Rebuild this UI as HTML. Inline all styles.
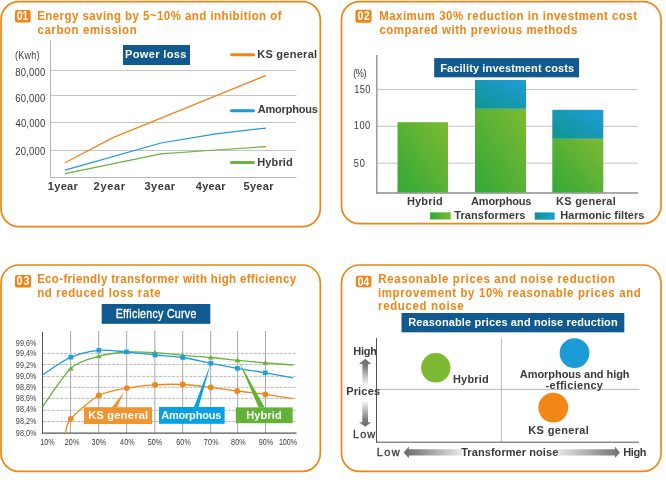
<!DOCTYPE html>
<html><head><meta charset="utf-8"><style>
html,body{margin:0;padding:0;background:#fff;}
body{width:666px;height:480px;overflow:hidden;position:relative;}
svg{position:absolute;left:0;top:0;will-change:transform;font-family:"Liberation Sans",sans-serif;}
</style></head><body>
<svg width="666" height="480" viewBox="0 0 666 480">
<defs>
<linearGradient id="gg" x1="0" y1="1" x2="1" y2="0"><stop offset="0" stop-color="#32a838"/><stop offset="1" stop-color="#7eba32"/></linearGradient>
<linearGradient id="bg" x1="0" y1="1" x2="1" y2="0"><stop offset="0" stop-color="#0f958e"/><stop offset="1" stop-color="#1f9dda"/></linearGradient>
<linearGradient id="gs" x1="0" y1="0" x2="1" y2="0"><stop offset="0" stop-color="#32a838"/><stop offset="1" stop-color="#7eba32"/></linearGradient>
<linearGradient id="bs" x1="0" y1="0" x2="1" y2="0"><stop offset="0" stop-color="#0f958e"/><stop offset="1" stop-color="#1f9dda"/></linearGradient>
<linearGradient id="ua" x1="0" y1="0" x2="0" y2="1"><stop offset="0" stop-color="#6c6c6c"/><stop offset="0.25" stop-color="#7a7a7a"/><stop offset="1" stop-color="#fff"/></linearGradient>
<linearGradient id="da" x1="0" y1="1" x2="0" y2="0"><stop offset="0" stop-color="#6c6c6c"/><stop offset="0.25" stop-color="#7a7a7a"/><stop offset="1" stop-color="#fff"/></linearGradient>
<linearGradient id="la" x1="0" y1="0" x2="1" y2="0"><stop offset="0" stop-color="#6a6a6a"/><stop offset="0.1" stop-color="#747474"/><stop offset="1" stop-color="#e8e8e8"/></linearGradient>
<linearGradient id="ra" x1="1" y1="0" x2="0" y2="0"><stop offset="0" stop-color="#6e6e6e"/><stop offset="0.1" stop-color="#7c7c7c"/><stop offset="1" stop-color="#e8e8e8"/></linearGradient>
</defs>
<rect x="1" y="1.7" width="319.3" height="224.9" rx="18" ry="18" fill="none" stroke="#f08516" stroke-width="1.7"/>
<rect x="341.5" y="1.7" width="319.5" height="222.0" rx="18" ry="18" fill="none" stroke="#f08516" stroke-width="1.7"/>
<rect x="1" y="265" width="319.3" height="206.3" rx="18" ry="18" fill="none" stroke="#f08516" stroke-width="1.7"/>
<rect x="341.5" y="265" width="319.5" height="206.3" rx="18" ry="18" fill="none" stroke="#f08516" stroke-width="1.7"/>
<rect x="15" y="9.9" width="15.600000000000001" height="12.6" fill="#f08516" rx="2.2"/>
<text transform="translate(16.77,20.3) scale(0.9,1)" font-size="12" font-weight="700" fill="#fff" textLength="12.81" lengthAdjust="spacing">01</text>
<text transform="translate(37.13,20) scale(0.88,1)" font-size="13" font-weight="700" fill="#f08516" textLength="277.66" lengthAdjust="spacing">Energy saving by 5~10% and inhibition of</text>
<text transform="translate(37.45,34) scale(0.88,1)" font-size="13" font-weight="700" fill="#f08516" textLength="112.79" lengthAdjust="spacing">carbon emission</text>
<line x1="50" y1="70.5" x2="296.5" y2="70.5" stroke="#c4c4c4" stroke-width="1"/>
<line x1="50" y1="95.5" x2="296.5" y2="95.5" stroke="#c4c4c4" stroke-width="1"/>
<line x1="50" y1="122.5" x2="296.5" y2="122.5" stroke="#c4c4c4" stroke-width="1"/>
<line x1="50" y1="150.5" x2="296.5" y2="150.5" stroke="#c4c4c4" stroke-width="1"/>
<line x1="50.5" y1="40" x2="50.5" y2="177.5" stroke="#b8b8b8" stroke-width="1"/>
<line x1="50" y1="177.5" x2="296.5" y2="177.5" stroke="#b8b8b8" stroke-width="1"/>
<text transform="translate(14.94,59) scale(0.9,1)" font-size="10" font-weight="400" fill="#3a3a3a" textLength="27.24" lengthAdjust="spacing">(Kwh)</text>
<text transform="translate(15.29,76) scale(0.86,1)" font-size="11" font-weight="400" fill="#3a3a3a" textLength="34.86" lengthAdjust="spacing">80,000</text>
<text transform="translate(15.22,102) scale(0.86,1)" font-size="11" font-weight="400" fill="#3a3a3a" textLength="34.94" lengthAdjust="spacing">60,000</text>
<text transform="translate(15.48,127) scale(0.86,1)" font-size="11" font-weight="400" fill="#3a3a3a" textLength="34.64" lengthAdjust="spacing">40,000</text>
<text transform="translate(15.22,155) scale(0.86,1)" font-size="11" font-weight="400" fill="#3a3a3a" textLength="34.94" lengthAdjust="spacing">20,000</text>
<rect x="123" y="45" width="67" height="20" fill="#105a8f"/>
<text x="125.06" y="58" font-size="11" font-weight="700" fill="#fff" textLength="61.39" lengthAdjust="spacing">Power loss</text>
<line x1="231.5" y1="54.7" x2="253.5" y2="54.7" stroke="#f0861a" stroke-width="3" stroke-linecap="round"/>
<line x1="231.5" y1="110.8" x2="253.5" y2="110.8" stroke="#1e9ad6" stroke-width="3" stroke-linecap="round"/>
<line x1="231.5" y1="162.5" x2="253.5" y2="162.5" stroke="#6cb33f" stroke-width="3" stroke-linecap="round"/>
<text x="257.26" y="58" font-size="11" font-weight="700" fill="#3a3a3a" textLength="59.81" lengthAdjust="spacing">KS general</text>
<text x="257.63" y="113" font-size="11" font-weight="700" fill="#3a3a3a" textLength="60.33" lengthAdjust="spacing">Amorphous</text>
<text x="257.26" y="166" font-size="11" font-weight="700" fill="#3a3a3a" textLength="35.46" lengthAdjust="spacing">Hybrid</text>
<polyline points="65,162.7 113,137.6 266,75.4" fill="none" stroke="#f0861a" stroke-width="1.25" stroke-linejoin="round"/>
<polyline points="65,170.1 161,143 216,133.8 266,128.1" fill="none" stroke="#1e9ad6" stroke-width="1.25" stroke-linejoin="round"/>
<polyline points="65,173.7 161,153.9 216,150 266,146.7" fill="none" stroke="#6cb33f" stroke-width="1.25" stroke-linejoin="round"/>
<text x="47.71" y="190" font-size="11" font-weight="700" fill="#3a3a3a" textLength="30.16" lengthAdjust="spacing">1year</text>
<text x="93.62" y="190" font-size="11" font-weight="700" fill="#3a3a3a" textLength="31.45" lengthAdjust="spacing">2year</text>
<text x="144.55" y="190" font-size="11" font-weight="700" fill="#3a3a3a" textLength="30.52" lengthAdjust="spacing">3year</text>
<text x="195.83" y="190" font-size="11" font-weight="700" fill="#3a3a3a" textLength="29.63" lengthAdjust="spacing">4year</text>
<text x="243.46" y="190" font-size="11" font-weight="700" fill="#3a3a3a" textLength="30.10" lengthAdjust="spacing">5year</text>
<rect x="355.4" y="9.8" width="16.200000000000045" height="12.899999999999999" fill="#f08516" rx="2.2"/>
<text transform="translate(357.47,20.4) scale(0.9,1)" font-size="12" font-weight="700" fill="#fff" textLength="13.62" lengthAdjust="spacing">02</text>
<text transform="translate(379.13,20) scale(0.88,1)" font-size="13" font-weight="700" fill="#f08516" textLength="293.07" lengthAdjust="spacing">Maximum 30% reduction in investment cost</text>
<text transform="translate(379.45,34) scale(0.88,1)" font-size="13" font-weight="700" fill="#f08516" textLength="224.79" lengthAdjust="spacing">compared with previous methods</text>
<line x1="377" y1="89.5" x2="638" y2="89.5" stroke="#c4c4c4" stroke-width="1"/>
<line x1="377" y1="126.3" x2="638" y2="126.3" stroke="#c4c4c4" stroke-width="1"/>
<line x1="377" y1="163.2" x2="638" y2="163.2" stroke="#c4c4c4" stroke-width="1"/>
<line x1="376.8" y1="55" x2="376.8" y2="193.8" stroke="#9a9a9a" stroke-width="1.5"/>
<line x1="376" y1="193" x2="638" y2="193" stroke="#8e8e8e" stroke-width="1.6"/>
<text transform="translate(353.18,77) scale(0.92,1)" font-size="10" font-weight="400" fill="#3a3a3a" textLength="14.66" lengthAdjust="spacing">(%)</text>
<text transform="translate(354.20,93) scale(0.84,1)" font-size="11" font-weight="400" fill="#3a3a3a" textLength="19.12" lengthAdjust="spacing">150</text>
<text transform="translate(353.80,129) scale(0.84,1)" font-size="11" font-weight="400" fill="#3a3a3a" textLength="19.42" lengthAdjust="spacing">100</text>
<text transform="translate(353.63,167) scale(0.84,1)" font-size="11" font-weight="400" fill="#3a3a3a" textLength="13.37" lengthAdjust="spacing">50</text>
<rect x="434.2" y="58.1" width="144.9" height="19.2" fill="#105a8f"/>
<text x="440.26" y="72" font-size="11" font-weight="700" fill="#fff" textLength="133.89" lengthAdjust="spacing">Facility investment costs</text>
<rect x="397.5" y="122.2" width="50.5" height="70.3" fill="url(#gg)"/>
<rect x="475" y="108.8" width="51" height="83.7" fill="url(#gg)"/>
<rect x="475" y="80" width="51" height="28.8" fill="url(#bg)"/>
<rect x="552.3" y="138.8" width="51" height="53.7" fill="url(#gg)"/>
<rect x="552.3" y="109.8" width="51" height="29" fill="url(#bg)"/>
<text x="406.96" y="205" font-size="11" font-weight="700" fill="#3a3a3a" textLength="35.66" lengthAdjust="spacing">Hybrid</text>
<text x="471.03" y="205" font-size="11" font-weight="700" fill="#3a3a3a" textLength="60.43" lengthAdjust="spacing">Amorphous</text>
<text x="556.06" y="205" font-size="11" font-weight="700" fill="#3a3a3a" textLength="59.71" lengthAdjust="spacing">KS general</text>
<rect x="430.1" y="212.3" width="20.7" height="7.2" fill="url(#gs)"/>
<text x="454.18" y="219" font-size="11" font-weight="700" fill="#3a3a3a" textLength="71.27" lengthAdjust="spacing">Transformers</text>
<rect x="534.7" y="212.4" width="20" height="7.3" fill="url(#bs)"/>
<text x="560.26" y="219" font-size="11" font-weight="700" fill="#3a3a3a" textLength="84.19" lengthAdjust="spacing">Harmonic filters</text>
<rect x="15" y="275" width="16.1" height="12.600000000000023" fill="#f08516" rx="2.2"/>
<text transform="translate(16.57,285.4) scale(0.9,1)" font-size="12" font-weight="700" fill="#fff" textLength="14.35" lengthAdjust="spacing">03</text>
<text transform="translate(37.13,283) scale(0.88,1)" font-size="13" font-weight="700" fill="#f08516" textLength="294.23" lengthAdjust="spacing">Eco-friendly transformer with high efficiency</text>
<text transform="translate(37.15,297) scale(0.88,1)" font-size="13" font-weight="700" fill="#f08516" textLength="140.39" lengthAdjust="spacing">nd reduced loss rate</text>
<rect x="101.7" y="304" width="108.6" height="19.8" fill="#105a8f"/>
<text transform="translate(115.63,318) scale(0.82,1)" font-size="13" font-weight="400" fill="#fff" textLength="98.47" lengthAdjust="spacing" stroke="#fff" stroke-width="0.35">Efficiency Curve</text>
<line x1="70.6" y1="331" x2="70.6" y2="433" stroke="#a8a8a8" stroke-width="1"/>
<line x1="98.7" y1="331" x2="98.7" y2="433" stroke="#a8a8a8" stroke-width="1"/>
<line x1="126.7" y1="331" x2="126.7" y2="433" stroke="#a8a8a8" stroke-width="1"/>
<line x1="154.8" y1="331" x2="154.8" y2="433" stroke="#a8a8a8" stroke-width="1"/>
<line x1="182.7" y1="331" x2="182.7" y2="433" stroke="#a8a8a8" stroke-width="1"/>
<line x1="210.7" y1="331" x2="210.7" y2="433" stroke="#a8a8a8" stroke-width="1"/>
<line x1="237.6" y1="331" x2="237.6" y2="433" stroke="#a8a8a8" stroke-width="1"/>
<line x1="265.5" y1="331" x2="265.5" y2="433" stroke="#a8a8a8" stroke-width="1"/>
<line x1="43" y1="353.4" x2="296" y2="353.4" stroke="#bcbcbc" stroke-width="1" stroke-dasharray="3.2 1.1"/>
<line x1="43" y1="364.5" x2="296" y2="364.5" stroke="#bcbcbc" stroke-width="1" stroke-dasharray="3.2 1.1"/>
<line x1="43" y1="376.4" x2="296" y2="376.4" stroke="#bcbcbc" stroke-width="1" stroke-dasharray="3.2 1.1"/>
<line x1="43" y1="387.3" x2="296" y2="387.3" stroke="#bcbcbc" stroke-width="1" stroke-dasharray="3.2 1.1"/>
<line x1="43" y1="398.4" x2="296" y2="398.4" stroke="#bcbcbc" stroke-width="1" stroke-dasharray="3.2 1.1"/>
<line x1="43" y1="410.3" x2="296" y2="410.3" stroke="#bcbcbc" stroke-width="1" stroke-dasharray="3.2 1.1"/>
<line x1="43" y1="421.5" x2="296" y2="421.5" stroke="#bcbcbc" stroke-width="1" stroke-dasharray="3.2 1.1"/>
<line x1="42.5" y1="332" x2="42.5" y2="433.5" stroke="#555" stroke-width="1"/>
<line x1="42" y1="433.2" x2="296.5" y2="433.2" stroke="#555" stroke-width="1.3"/>
<text transform="translate(15.86,346) scale(0.8,1)" font-size="9" font-weight="400" fill="#3a3a3a" textLength="25.62" lengthAdjust="spacing">99,6%</text>
<text transform="translate(15.86,356) scale(0.8,1)" font-size="9" font-weight="400" fill="#3a3a3a" textLength="25.62" lengthAdjust="spacing">99,4%</text>
<text transform="translate(15.86,368) scale(0.8,1)" font-size="9" font-weight="400" fill="#3a3a3a" textLength="25.62" lengthAdjust="spacing">99,2%</text>
<text transform="translate(15.86,379) scale(0.8,1)" font-size="9" font-weight="400" fill="#3a3a3a" textLength="25.62" lengthAdjust="spacing">99,0%</text>
<text transform="translate(15.86,390) scale(0.8,1)" font-size="9" font-weight="400" fill="#3a3a3a" textLength="25.62" lengthAdjust="spacing">98,8%</text>
<text transform="translate(15.86,401) scale(0.8,1)" font-size="9" font-weight="400" fill="#3a3a3a" textLength="25.62" lengthAdjust="spacing">98,6%</text>
<text transform="translate(15.86,412) scale(0.8,1)" font-size="9" font-weight="400" fill="#3a3a3a" textLength="25.62" lengthAdjust="spacing">98,4%</text>
<text transform="translate(15.86,424) scale(0.8,1)" font-size="9" font-weight="400" fill="#3a3a3a" textLength="25.62" lengthAdjust="spacing">98,2%</text>
<text transform="translate(15.86,436) scale(0.8,1)" font-size="9" font-weight="400" fill="#3a3a3a" textLength="25.62" lengthAdjust="spacing">98,0%</text>
<text transform="translate(40.15,445) scale(0.8,1)" font-size="9" font-weight="400" fill="#3a3a3a" textLength="18.01" lengthAdjust="spacing">10%</text>
<text transform="translate(64.64,445) scale(0.8,1)" font-size="9" font-weight="400" fill="#3a3a3a" textLength="18.52" lengthAdjust="spacing">20%</text>
<text transform="translate(91.53,445) scale(0.8,1)" font-size="9" font-weight="400" fill="#3a3a3a" textLength="18.41" lengthAdjust="spacing">30%</text>
<text transform="translate(120.03,445) scale(0.8,1)" font-size="9" font-weight="400" fill="#3a3a3a" textLength="18.28" lengthAdjust="spacing">40%</text>
<text transform="translate(147.71,445) scale(0.8,1)" font-size="9" font-weight="400" fill="#3a3a3a" textLength="17.93" lengthAdjust="spacing">50%</text>
<text transform="translate(176.13,445) scale(0.8,1)" font-size="9" font-weight="400" fill="#3a3a3a" textLength="18.53" lengthAdjust="spacing">60%</text>
<text transform="translate(203.63,445) scale(0.8,1)" font-size="9" font-weight="400" fill="#3a3a3a" textLength="18.66" lengthAdjust="spacing">70%</text>
<text transform="translate(230.99,445) scale(0.8,1)" font-size="9" font-weight="400" fill="#3a3a3a" textLength="18.46" lengthAdjust="spacing">80%</text>
<text transform="translate(258.86,445) scale(0.8,1)" font-size="9" font-weight="400" fill="#3a3a3a" textLength="17.99" lengthAdjust="spacing">90%</text>
<text transform="translate(278.95,445) scale(0.8,1)" font-size="9" font-weight="400" fill="#3a3a3a" textLength="22.63" lengthAdjust="spacing">100%</text>
<path d="M65.4,433 C66.17,430.99 66.05,424.11 70.8,418.8 C75.55,413.49 90.97,399.85 98.9,395.5 C106.83,391.15 118.85,389.62 126.8,388.1 C134.75,386.58 147.08,385.31 155,384.8 C162.92,384.29 174.79,384.13 182.7,384.5 C190.60,384.87 203.08,386.48 210.8,387.4 C218.52,388.32 229.48,390.02 237.2,391 C244.92,391.98 257.39,393.21 265.3,394.3 C273.21,395.39 289.08,398.08 293,398.7" fill="none" stroke="#f0861a" stroke-width="1.3"/>
<path d="M42.5,407 C46.74,401.21 62.35,376.00 70.8,368.4 C79.25,360.79 90.44,358.76 98.8,356.3 C107.16,353.84 118.07,352.56 126.5,352 C134.93,351.44 146.57,352.11 155,352.6 C163.43,353.10 174.33,354.56 182.7,355.3 C191.07,356.04 202.56,356.75 210.8,357.5 C219.04,358.25 229.42,359.50 237.6,360.3 C245.78,361.10 256.99,362.10 265.3,362.8 C273.61,363.50 288.85,364.67 293,365" fill="none" stroke="#68b33a" stroke-width="1.3"/>
<path d="M42.5,375 C46.74,372.33 62.35,360.90 70.8,357.2 C79.25,353.50 90.44,351.10 98.8,350.3 C107.16,349.50 118.07,351.19 126.5,351.9 C134.93,352.60 146.57,354.16 155,355 C163.43,355.84 174.33,356.25 182.7,357.5 C191.07,358.75 202.59,361.68 210.8,363.3 C219.01,364.92 229.22,366.88 237.4,368.3 C245.58,369.73 256.96,371.38 265.3,372.8 C273.64,374.23 288.85,377.05 293,377.8" fill="none" stroke="#1e9ee0" stroke-width="1.3"/>
<circle cx="70.8" cy="418.8" r="2.9" fill="#f0861a"/>
<circle cx="98.9" cy="395.5" r="2.9" fill="#f0861a"/>
<circle cx="126.8" cy="388.1" r="2.9" fill="#f0861a"/>
<circle cx="155" cy="384.8" r="2.9" fill="#f0861a"/>
<circle cx="182.7" cy="384.5" r="2.9" fill="#f0861a"/>
<circle cx="210.8" cy="387.4" r="2.9" fill="#f0861a"/>
<circle cx="237.2" cy="391" r="2.9" fill="#f0861a"/>
<circle cx="265.3" cy="394.3" r="2.9" fill="#f0861a"/>
<polygon points="67.8,370.4 73.8,370.4 70.8,365.9" fill="#68b33a"/>
<polygon points="95.8,358.3 101.8,358.3 98.8,353.8" fill="#68b33a"/>
<polygon points="123.5,354 129.5,354 126.5,349.5" fill="#68b33a"/>
<polygon points="152,354.6 158,354.6 155,350.1" fill="#68b33a"/>
<polygon points="179.7,357.3 185.7,357.3 182.7,352.8" fill="#68b33a"/>
<polygon points="207.8,359.5 213.8,359.5 210.8,355.0" fill="#68b33a"/>
<polygon points="234.6,362.3 240.6,362.3 237.6,357.8" fill="#68b33a"/>
<polygon points="262.3,364.8 268.3,364.8 265.3,360.3" fill="#68b33a"/>
<rect x="68.5" y="354.9" width="4.6" height="4.6" fill="#1e9ee0"/>
<rect x="96.5" y="348.0" width="4.6" height="4.6" fill="#1e9ee0"/>
<rect x="124.2" y="349.59999999999997" width="4.6" height="4.6" fill="#1e9ee0"/>
<rect x="152.7" y="352.7" width="4.6" height="4.6" fill="#1e9ee0"/>
<rect x="180.39999999999998" y="355.2" width="4.6" height="4.6" fill="#1e9ee0"/>
<rect x="208.5" y="361.0" width="4.6" height="4.6" fill="#1e9ee0"/>
<rect x="235.1" y="366.0" width="4.6" height="4.6" fill="#1e9ee0"/>
<rect x="263.0" y="370.5" width="4.6" height="4.6" fill="#1e9ee0"/>
<rect x="84" y="407.2" width="68" height="16.8" fill="#f29330"/>
<polygon points="111.8,407.5 117,407.5 124,392" fill="#f29330"/>
<rect x="159" y="407" width="65.6" height="16.8" fill="#05a0e6"/>
<polygon points="193.8,407.5 198.5,407.5 210.8,363.3" fill="#05a0e6"/>
<rect x="235.8" y="407.4" width="56.8" height="15.8" fill="#62b235"/>
<polygon points="258.6,407.5 264.7,407.5 238.4,360.4" fill="#62b235"/>
<text x="88.16" y="419" font-size="11" font-weight="700" fill="#fff" textLength="60.01" lengthAdjust="spacing">KS general</text>
<text x="161.13" y="419" font-size="11" font-weight="700" fill="#fff" textLength="60.23" lengthAdjust="spacing">Amorphous</text>
<text x="246.16" y="419" font-size="11" font-weight="700" fill="#fff" textLength="35.56" lengthAdjust="spacing">Hybrid</text>
<rect x="355.8" y="275.8" width="15.599999999999966" height="11.5" fill="#f08516" rx="2.2"/>
<text transform="translate(357.47,285.5) scale(0.9,1)" font-size="12" font-weight="700" fill="#fff" textLength="13.21" lengthAdjust="spacing">04</text>
<text transform="translate(378.23,283) scale(0.88,1)" font-size="13" font-weight="700" fill="#f08516" textLength="268.95" lengthAdjust="spacing">Reasonable prices and noise reduction</text>
<text transform="translate(378.00,297) scale(0.88,1)" font-size="13" font-weight="700" fill="#f08516" textLength="298.58" lengthAdjust="spacing">improvement by 10% reasonable prices and</text>
<text transform="translate(378.05,310) scale(0.88,1)" font-size="13" font-weight="700" fill="#f08516" textLength="97.32" lengthAdjust="spacing">reduced noise</text>
<rect x="401.5" y="313" width="222.8" height="19.3" fill="#105a8f"/>
<text x="408.26" y="326" font-size="11" font-weight="700" fill="#fff" textLength="209.42" lengthAdjust="spacing">Reasonable prices and noise reduction</text>
<line x1="501.4" y1="338.3" x2="501.4" y2="442" stroke="#b8b8b8" stroke-width="1"/>
<line x1="376" y1="389.4" x2="639.2" y2="389.4" stroke="#b8b8b8" stroke-width="1"/>
<line x1="376.5" y1="338" x2="376.5" y2="442.8" stroke="#555" stroke-width="1"/>
<line x1="376" y1="442.2" x2="639" y2="442.2" stroke="#555" stroke-width="1"/>
<path d="M365.2,358.7 L371.3,363.9 L368,363.9 L368,386 L362.4,386 L362.4,363.9 L359,363.9 Z" fill="url(#ua)"/>
<path d="M365.2,426.8 L371.3,422.3 L368,422.3 L368,400 L362.3,400 L362.3,422.3 L359.1,422.3 Z" fill="url(#da)"/>
<path d="M403.7,452.4 L408.9,446.5 L408.9,449.3 L462,449.3 L462,455.4 L408.9,455.4 L408.9,458.3 Z" fill="url(#la)"/>
<path d="M620,452.4 L615,446.7 L615,449.3 L557,449.3 L557,455.4 L615,455.4 L615,458.1 Z" fill="url(#ra)"/>
<text x="353.16" y="355" font-size="11" font-weight="700" fill="#3a3a3a" textLength="23.77" lengthAdjust="spacing">High</text>
<text x="346.16" y="395" font-size="11" font-weight="700" fill="#3a3a3a" textLength="33.89" lengthAdjust="spacing">Prices</text>
<text x="353.00" y="438" font-size="11" font-weight="400" fill="#3a3a3a" textLength="22.23" lengthAdjust="spacing" stroke="#3a3a3a" stroke-width="0.3">Low</text>
<text x="376.80" y="456" font-size="11" font-weight="400" fill="#3a3a3a" textLength="22.98" lengthAdjust="spacing" stroke="#3a3a3a" stroke-width="0.3">Low</text>
<text x="461.18" y="456" font-size="11" font-weight="700" fill="#3a3a3a" textLength="97.10" lengthAdjust="spacing">Transformer noise</text>
<text x="623.26" y="456" font-size="11" font-weight="700" fill="#3a3a3a" textLength="23.22" lengthAdjust="spacing">High</text>
<circle cx="435.8" cy="367.8" r="14.7" fill="#7db933"/>
<circle cx="574.5" cy="353.1" r="14.9" fill="#1c9cd7"/>
<circle cx="553.3" cy="407.6" r="14.9" fill="#f28617"/>
<text x="452.96" y="383" font-size="11" font-weight="700" fill="#3a3a3a" textLength="35.76" lengthAdjust="spacing">Hybrid</text>
<text x="519.83" y="378" font-size="11" font-weight="700" fill="#3a3a3a" textLength="109.76" lengthAdjust="spacing">Amorphous and high</text>
<text x="545.57" y="389" font-size="11" font-weight="700" fill="#3a3a3a" textLength="57.39" lengthAdjust="spacing">-efficiency</text>
<text x="528.26" y="434" font-size="11" font-weight="700" fill="#3a3a3a" textLength="60.61" lengthAdjust="spacing">KS general</text>
</svg>
</body></html>
